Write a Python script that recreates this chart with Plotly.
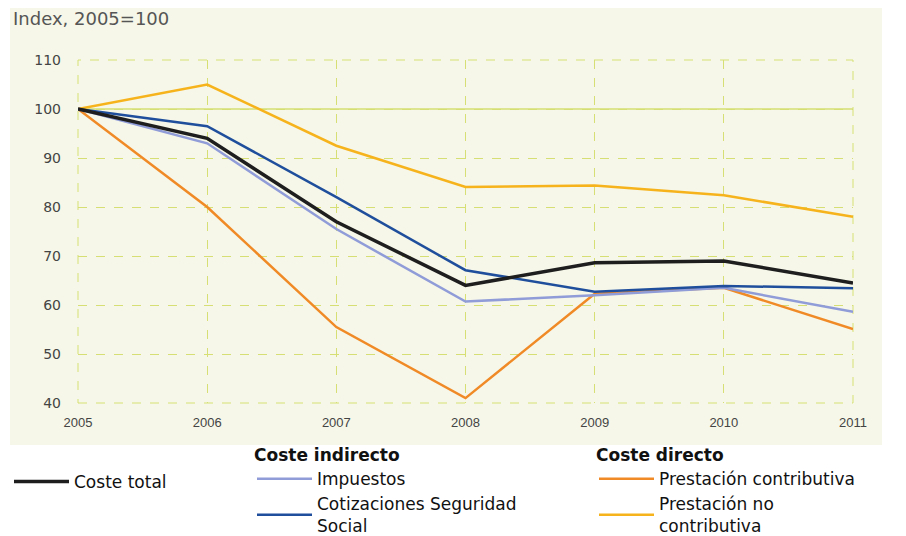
import plotly.graph_objects as go

years = [2005, 2006, 2007, 2008, 2009, 2010, 2011]
coste_total = [100, 94, 77, 64, 68.6, 69.0, 64.5]
impuestos = [100, 93, 75.5, 60.7, 62, 63.5, 58.6]
cotizaciones = [100, 96.5, 82, 67.1, 62.7, 63.9, 63.4]
prest_contributiva = [100, 80, 55.5, 41, 62.3, 63.5, 55.1]
prest_no_contributiva = [100, 105, 92.5, 84.1, 84.4, 82.4, 78]

# page has an 8px body margin; figure sized to fit the 906x536 window
OFF = 8
W, H = 906 - OFF, 536 - OFF
# plot area in page pixels: x 78..853, y 60..403
L = 78 - OFF
T = 60 - OFF
R = W - (853 - OFF)
B = H - (403 - OFF)
pw, ph = W - L - R, H - T - B

def px2x(p):  # page pixel -> paper x
    return (p - OFF - L) / pw

def py2y(p):  # page pixel -> paper y
    return 1 - (p - OFF - T) / ph

bg = "#f6f7e8"
grid = "#d6df74"
font = "DejaVu Sans"
tfont = "Liberation Sans"

fig = go.Figure()
fig.add_trace(go.Scatter(x=years, y=prest_no_contributiva, mode="lines", name="Prestación no<br>contributiva",
                         line=dict(color="#f6b31c", width=2.5), legend="legend3", legendrank=2))
fig.add_trace(go.Scatter(x=years, y=prest_contributiva, mode="lines", name="Prestación contributiva",
                         line=dict(color="#f08a26", width=2.5), legend="legend3", legendrank=1))
fig.add_trace(go.Scatter(x=years, y=impuestos, mode="lines", name="Impuestos",
                         line=dict(color="#8f9cd8", width=2.5), legend="legend2", legendrank=1))
fig.add_trace(go.Scatter(x=years, y=cotizaciones, mode="lines", name="Cotizaciones Seguridad<br>Social",
                         line=dict(color="#1f4f9c", width=2.5), legend="legend2", legendrank=2))
fig.add_trace(go.Scatter(x=years, y=coste_total, mode="lines", name="Coste total",
                         line=dict(color="#1e1e1e", width=3.5), legend="legend", showlegend=True))

# beige panel behind the chart area
fig.add_shape(type="rect", xref="paper", yref="paper",
              x0=px2x(10), x1=px2x(882), y0=py2y(445), y1=py2y(6),
              fillcolor=bg, line=dict(width=0), layer="below")
# dashed frame of the plot area
fig.add_shape(type="rect", xref="paper", yref="paper", x0=0, x1=1, y0=0, y1=1,
              line=dict(color=grid, width=1, dash="dash"), fillcolor="rgba(0,0,0,0)", layer="below")
fig.add_shape(type="line", xref="paper", yref="y", x0=0, x1=1, y0=100, y1=100,
              line=dict(color=grid, width=1.5), layer="below")

fig.add_annotation(text="Index, 2005=100", xref="paper", yref="paper",
                   x=px2x(11), y=py2y(18), xanchor="left", yanchor="middle",
                   showarrow=False, font=dict(family=font, size=18, color="#555555"))

leg_font = dict(family=font, size=17, color="#111111")
leg_common = dict(orientation="v", bgcolor="rgba(0,0,0,0)", font=leg_font,
                  tracegroupgap=0, itemwidth=55, traceorder="normal")
fig.update_layout(
    width=W, height=H,
    margin=dict(l=L, r=R, t=T, b=B, autoexpand=False),
    paper_bgcolor="white",
    plot_bgcolor=bg,
    showlegend=True,
    legend=dict(x=px2x(9), y=py2y(464), xanchor="left", yanchor="top", **leg_common),
    legend2=dict(x=px2x(252), y=py2y(439), xanchor="left", yanchor="top",
                 title=dict(text="<b>Coste indirecto</b>", side="top", font=leg_font),
                 **leg_common),
    legend3=dict(x=px2x(594), y=py2y(439), xanchor="left", yanchor="top",
                 title=dict(text="<b>Coste directo</b>", side="top", font=leg_font),
                 **leg_common),
    xaxis=dict(range=[2005, 2011], tickvals=years, ticktext=[str(y) for y in years],
               showgrid=True, gridcolor=grid, griddash="dash", gridwidth=1,
               zeroline=False, showline=False, ticks="", ticklabelstandoff=10,
               tickfont=dict(family=tfont, size=13, color="#444444")),
    yaxis=dict(range=[40, 110], tickvals=[40, 50, 60, 70, 80, 90, 100, 110],
               showgrid=True, gridcolor=grid, griddash="dash", gridwidth=1,
               zeroline=False, showline=False, ticks="", ticklabelstandoff=16,
               tickfont=dict(family=font, size=14, color="#444444")),
)

fig.write_html("out.html")
